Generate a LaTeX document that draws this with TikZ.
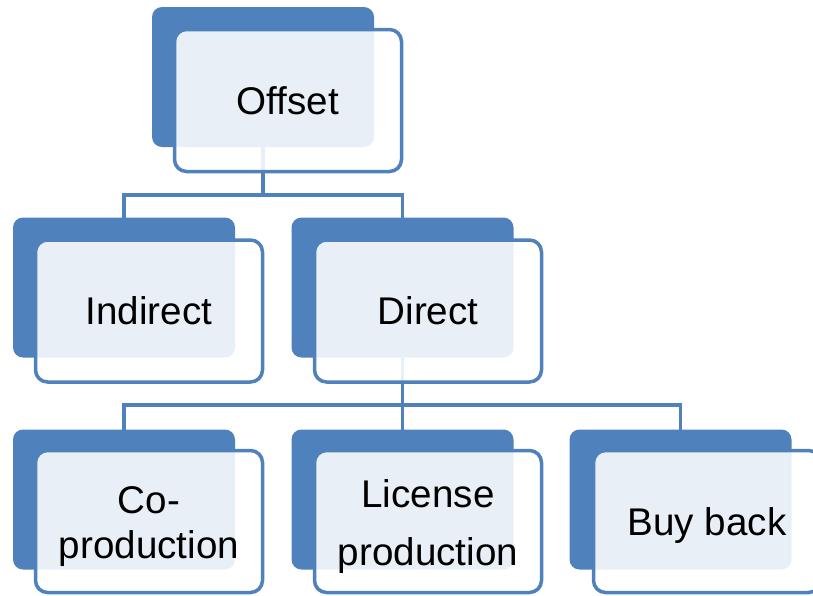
\documentclass[tikz,border=0pt]{standalone}
\usepackage{fontspec}
\setmainfont{Liberation Sans}
\definecolor{accblue}{RGB}{79,129,189}
\tikzset{
  backbox/.style={fill=accblue, draw=none, rounded corners=10pt, minimum width=222pt, minimum height=140pt, inner sep=0pt, outer sep=0pt},
  frontbox/.style={draw=accblue, line width=3.5pt, fill=white, fill opacity=0.88, text opacity=1, rounded corners=12pt, minimum width=227pt, minimum height=142pt, inner sep=0pt, align=center, text=black, font=\fontsize{38.6}{45}\selectfont},
  labeltext/.style={align=center, text=black, font=\fontsize{38.6}{45}\selectfont, inner sep=0pt},
  conn/.style={draw=accblue, line width=3.5pt}
}
\begin{document}
\begin{tikzpicture}[x=1pt,y=-1pt]
\useasboundingbox (0,0) rectangle (813,595);
% back boxes
\node[backbox] (offB) at (263,77) {};
\node[backbox] (indB) at (124,287.5) {};
\node[backbox] (dirB) at (402.5,287.5) {};
\node[backbox] (coB) at (124,499.5) {};
\node[backbox] (licB) at (402.5,499.5) {};
\node[backbox] (buyB) at (680.5,499.5) {};
% connectors
\coordinate (bus1) at (263,195);
\coordinate (bus2) at (402.5,405);
\draw[conn] (offB.south) -- (bus1) -| (indB.north);
\draw[conn] (bus1) -| (dirB.north);
\draw[conn] (dirB.south) -- (bus2) -| (coB.north);
\draw[conn] (bus2) -- (licB.north);
\draw[conn] (bus2) -| (buyB.north);
% front boxes
\node[frontbox] (offF) at (288,100.5) {Offset};
\node[frontbox] (indF) at (149,311) {Indirect};
\node[frontbox] (dirF) at (428,311) {Direct};
\node[frontbox] (coF) at (149,521.5) {};
\node[frontbox] (licF) at (428,521.5) {};
\node[frontbox] (buyF) at (707,521.5) {};
\node[labeltext] (coT) at ([yshift=-5pt]coF.center) {Co-\\production};
\node[labeltext] (licT) at ([yshift=-5pt]licF.center) {License\\[13pt]production};
\node[labeltext] (buyT) at ([yshift=-4pt]buyF.center) {Buy back};
\end{tikzpicture}
\end{document}
